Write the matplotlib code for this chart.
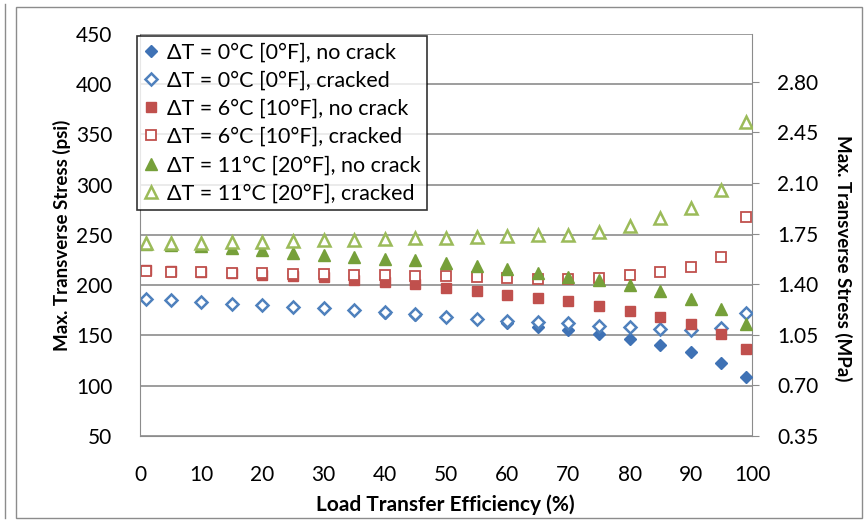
import matplotlib
matplotlib.use("Agg")
import matplotlib.pyplot as plt
from matplotlib.patches import Rectangle
from matplotlib.lines import Line2D
import numpy as np

plt.rcParams['font.family'] = ['Lato', 'DejaVu Sans']

lte = [1, 5, 10, 15, 20, 25, 30, 35, 40, 45, 50, 55, 60, 65, 70, 75, 80, 85, 90, 95, 99]

dt0_nocrack = [186.5, 185, 183.3, 181.6, 180.2, 178.5, 177.2, 175.2, 172.8, 170.8, 168.6,
               166.2, 162.8, 158.7, 155.5, 151.5, 146.5, 140.5, 133.3, 123, 108.5]
dt0_cracked = [186.7, 185, 183.4, 181.7, 180.4, 178.7, 177.4, 175.4, 173, 171, 168.8,
               166.7, 164.7, 163.7, 162, 159.8, 158, 156.8, 155.5, 157.8, 172]
dt6_nocrack = [215, 214.3, 213, 211.7, 210.4, 209, 208, 205.4, 203.4, 201, 197.5,
               194.2, 190.6, 187.6, 184, 179.3, 174.6, 168.7, 161.5, 151.5, 136.6]
dt6_cracked = [214, 213.5, 213, 212.5, 212, 211.5, 211, 210.5, 210, 209.5, 208.8,
               208.2, 207.5, 206.5, 206.2, 207.5, 210, 213, 218.4, 228.4, 268.1]
dt11_nocrack = [240.7, 239.7, 238.7, 237, 234.7, 232.4, 230.4, 228.4, 226.4, 224.7, 222,
                219.4, 215.8, 212.4, 208.5, 205.2, 199.9, 194.2, 186.6, 176.3, 161.1]
dt11_cracked = [242, 242, 242.4, 243, 243, 244.3, 244.7, 245, 245.7, 246.7, 247.3,
                248.2, 248.9, 249.6, 250.2, 252.6, 258.8, 266.5, 277, 294.6, 362.5]

labels = ["\u0394T = 0\u00b0C [0\u00b0F], no crack",
          "\u0394T = 0\u00b0C [0\u00b0F], cracked",
          "\u0394T = 6\u00b0C [10\u00b0F], no crack",
          "\u0394T = 6\u00b0C [10\u00b0F], cracked",
          "\u0394T = 11\u00b0C [20\u00b0F], no crack",
          "\u0394T = 11\u00b0C [20\u00b0F], cracked"]

psi_ticks = [50, 100, 150, 200, 250, 300, 350, 400, 450]
x_ticks = [0, 10, 20, 30, 40, 50, 60, 70, 80, 90, 100]
mpa_ticks = [0.35, 0.70, 1.05, 1.40, 1.75, 2.10, 2.45, 2.80]

blue = '#4F81BD'
blue_d = '#3F72B5'
red = '#C0504D'
green = '#9BBB59'
green_d = '#76A03A'

fig = plt.figure(figsize=(8.67, 5.22), dpi=100)
ax = fig.add_axes([0.1615, 0.1648, 0.7059, 0.7701])

series = [
    (dt0_nocrack, dict(marker='D', ms=6, color=blue_d, mfc=blue_d, mec=blue_d, mew=1)),
    (dt0_cracked, dict(marker='D', ms=6, color=blue, mfc='white', mec=blue, mew=1.8)),
    (dt6_nocrack, dict(marker='s', ms=7, color=red, mfc=red, mec=red, mew=1)),
    (dt6_cracked, dict(marker='s', ms=7, color=red, mfc='white', mec=red, mew=1.3)),
    (dt11_nocrack, dict(marker='^', ms=8, color=green_d, mfc=green_d, mec=green_d, mew=1)),
    (dt11_cracked, dict(marker='^', ms=8, color=green, mfc='white', mec=green, mew=1.8)),
]
for (vals, st), lab in zip(series, labels):
    ax.plot(lte, vals, linestyle='none', label=lab, **st)

ax.set_xlim(0, 100)
ax.set_ylim(50, 450)
ax.set_xticks(x_ticks)
ax.set_yticks(psi_ticks)
ax.yaxis.grid(True, color='#8c8c8c', linewidth=1.2)
ax.set_axisbelow(True)
for s in ['top', 'right']:
    ax.spines[s].set_visible(False)
for s in ['left', 'bottom']:
    ax.spines[s].set_color('#8c8c8c')
ax.tick_params(axis='both', length=0, labelsize=15)
ax.tick_params(axis='y', pad=20)
ax.tick_params(axis='x', pad=21)
ax.set_xlabel('Load Transfer Efficiency (%)', fontsize=15, fontweight='bold', va='center')
ax.xaxis.set_label_coords((445 - 140) / 612, (436 - 505) / 402)
ax.set_ylabel('Max. Transverse Stress (psi)', fontsize=13.5, fontweight='bold', va='center')
ax.yaxis.set_label_coords((62 - 140) / 612, 0.5)

ax2 = ax.twinx()
ax2.set_ylim(0.35, 3.13)
ax2.set_yticks(mpa_ticks)
ax2.set_yticklabels([f"{v:.2f}" for v in mpa_ticks])
for s in ['top', 'left', 'bottom']:
    ax2.spines[s].set_visible(False)
ax2.spines['right'].set_color('#8c8c8c')
ax2.tick_params(axis='y', length=5, color='#8c8c8c', labelsize=15, pad=13)
ax2.set_ylabel('Max. Transverse Stress (MPa)', fontsize=13.5, fontweight='bold',
               rotation=-90, va='center')
ax2.yaxis.set_label_coords((843 - 140) / 612, (436 - 258) / 402)

leg = ax.legend(loc='upper left', bbox_to_anchor=(137/867, 1-36/522),
                bbox_transform=fig.transFigure, frameon=True, fancybox=False,
                fontsize=15.5, handlelength=0.7, handletextpad=0.4, borderpad=0.3,
                labelspacing=0.38, borderaxespad=0, numpoints=1)
leg.get_frame().set_edgecolor('black')
leg.get_frame().set_linewidth(1.2)
leg.set_zorder(10)
ax.set_zorder(ax2.get_zorder() + 1)
ax.patch.set_visible(False)

fig.patches.append(Rectangle((16/867, 1-518/522), (862-16)/867, (518-7)/522,
                             transform=fig.transFigure, fill=False,
                             edgecolor='#8c8c8c', linewidth=1))
fig.add_artist(Line2D([5/867, 5/867], [1-518/522, 1-4/522], transform=fig.transFigure,
                      color='#8c8c8c', linewidth=1))

fig.savefig('out.png', dpi=100)
